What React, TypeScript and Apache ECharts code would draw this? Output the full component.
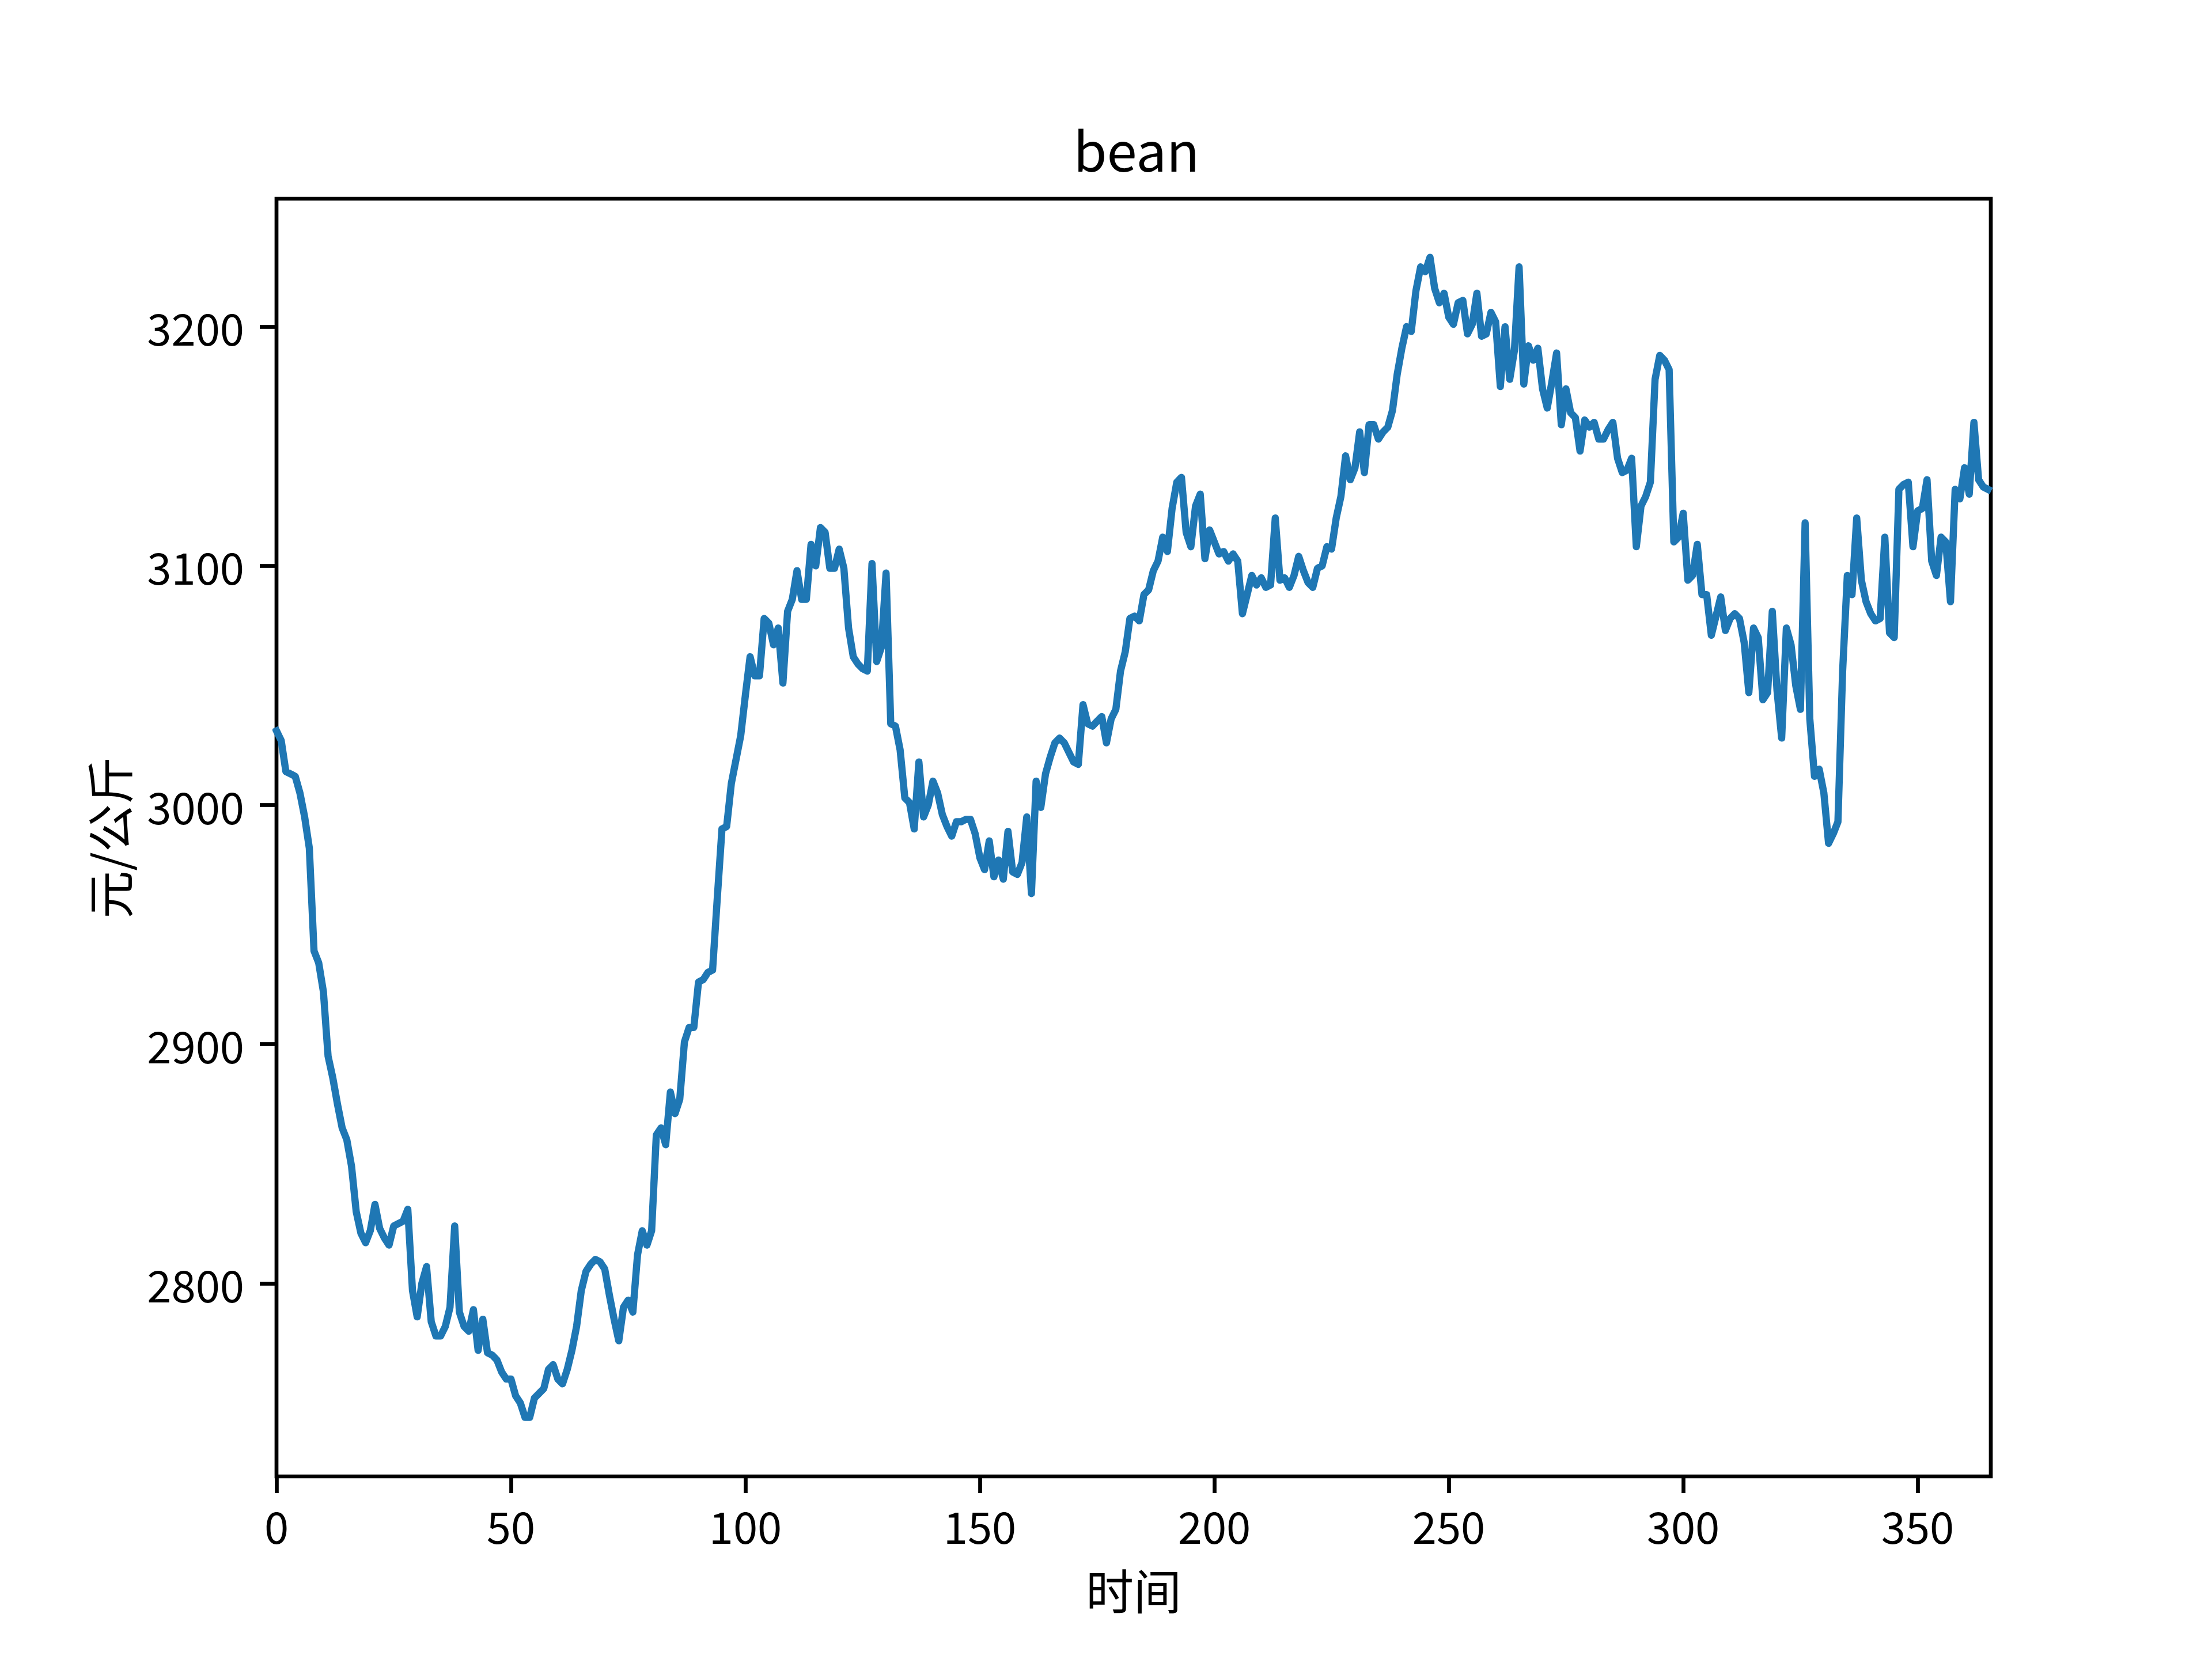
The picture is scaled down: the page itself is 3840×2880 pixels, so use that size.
import React, { useEffect, useRef } from "react";
import * as echarts from "echarts";

// Daily bean price (元/公斤), index = day
const prices: number[] = [
  3031, 3027, 3014, 3013, 3012, 3005, 2995, 2982, 2939, 2934,
  2922, 2895, 2886, 2875, 2865, 2860, 2849, 2830, 2821, 2817,
  2822, 2833, 2823, 2819, 2816, 2824, 2825, 2826, 2831, 2797,
  2786, 2800, 2807, 2784, 2778, 2778, 2782, 2790, 2824, 2788,
  2782, 2780, 2789, 2772, 2785, 2771, 2770, 2768, 2763, 2760,
  2760, 2753, 2750, 2744, 2744, 2752, 2754, 2756, 2764, 2766,
  2760, 2758, 2764, 2772, 2782, 2797, 2805, 2808, 2810, 2809,
  2806, 2795, 2785, 2776, 2790, 2793, 2788, 2812, 2822, 2816,
  2822, 2862, 2865, 2858, 2880, 2871, 2877, 2901, 2907, 2907,
  2926, 2927, 2930, 2931, 2961, 2990, 2991, 3009, 3019, 3029,
  3046, 3062, 3054, 3054, 3078, 3076, 3067, 3074, 3051, 3081,
  3086, 3098, 3086, 3086, 3109, 3100, 3116, 3114, 3099, 3099,
  3107, 3099, 3074, 3062, 3059, 3057, 3056, 3101, 3060, 3066,
  3097, 3034, 3033, 3023, 3003, 3001, 2990, 3018, 2995, 3000,
  3010, 3005, 2996, 2991, 2987, 2993, 2993, 2994, 2994, 2988,
  2978, 2973, 2985, 2970, 2977, 2969, 2989, 2972, 2971, 2976,
  2995, 2963, 3010, 2999, 3013, 3020, 3026, 3028, 3026, 3022,
  3018, 3017, 3042, 3034, 3033, 3035, 3037, 3026, 3036, 3040,
  3056, 3064, 3078, 3079, 3077, 3088, 3090, 3098, 3102, 3112,
  3106, 3124, 3135, 3137, 3114, 3108, 3125, 3130, 3103, 3115,
  3110, 3105, 3106, 3102, 3105, 3102, 3080, 3088, 3096, 3092,
  3095, 3091, 3092, 3120, 3094, 3095, 3091, 3096, 3104, 3098,
  3093, 3091, 3099, 3100, 3108, 3107, 3120, 3129, 3146, 3136,
  3141, 3156, 3139, 3159, 3159, 3153, 3156, 3158, 3165, 3180,
  3191, 3200, 3198, 3215, 3225, 3223, 3229, 3216, 3210, 3214,
  3204, 3201, 3210, 3211, 3197, 3201, 3214, 3196, 3197, 3206,
  3202, 3175, 3200, 3178, 3190, 3225, 3176, 3192, 3186, 3191,
  3174, 3166, 3177, 3189, 3159, 3174, 3164, 3162, 3148, 3161,
  3158, 3160, 3153, 3153, 3157, 3160, 3145, 3139, 3140, 3145,
  3108, 3125, 3129, 3135, 3178, 3188, 3186, 3182, 3110, 3112,
  3122, 3094, 3096, 3109, 3088, 3088, 3071, 3079, 3087, 3073,
  3078, 3080, 3078, 3068, 3047, 3074, 3070, 3044, 3047, 3081,
  3048, 3028, 3074, 3067, 3050, 3040, 3118, 3036, 3012, 3015,
  3005, 2984, 2988, 2993, 3056, 3096, 3088, 3120, 3094, 3085,
  3080, 3077, 3078, 3112, 3072, 3070, 3132, 3134, 3135, 3108,
  3123, 3124, 3136, 3102, 3096, 3112, 3110, 3085, 3132, 3128,
  3141, 3130, 3160, 3136, 3133, 3132,
];

const xTicks: number[] = [0, 50, 100, 150, 200, 250, 300, 350];
const yTicks: number[] = [2800, 2900, 3000, 3100, 3200];
const chartTitle = "bean";
const xName = "时间";
const yName = "元/公斤";

const FONT = "'Noto Sans CJK SC', 'Noto Sans', sans-serif";

export default function App() {
  const ref = useRef<HTMLDivElement>(null);

  useEffect(() => {
    document.body.style.margin = "0";
    if (!ref.current) return;
    const chart = echarts.init(ref.current, undefined, { renderer: "svg" });
    const data = prices.map((v, i) => [i, v]);
    chart.setOption({
      animation: false,
      backgroundColor: "#ffffff",
      title: {
        text: chartTitle,
        left: 1968,
        top: 205,
        textAlign: "center",
        textStyle: {
          fontFamily: FONT,
          fontSize: 94,
          fontWeight: "normal",
          color: "#000000",
        },
      },
      grid: {
        left: 480,
        right: 384,
        top: 345,
        bottom: 317,
        show: true,
        borderColor: "#000000",
        borderWidth: 6.7,
        backgroundColor: "transparent",
        containLabel: false,
      },
      xAxis: {
        type: "value",
        min: 0,
        max: 365.6,
        name: xName,
        nameLocation: "middle",
        nameGap: 153,
        nameTextStyle: { fontFamily: FONT, fontSize: 83, color: "#000000" },
        axisLine: { show: false },
        axisTick: {
          show: true,
          inside: false,
          length: 29,
          customValues: xTicks,
          lineStyle: { color: "#000000", width: 6.7 },
        },
        axisLabel: {
          customValues: xTicks,
          margin: 46,
          fontFamily: FONT,
          fontSize: 76,
          color: "#000000",
          formatter: (v: number) => String(v),
        },
        splitLine: { show: false },
      },
      yAxis: {
        type: "value",
        min: 2719.3,
        max: 3253.5,
        name: yName,
        nameLocation: "middle",
        nameGap: 252,
        nameRotate: 90,
        nameTextStyle: { fontFamily: FONT, fontSize: 83, color: "#000000" },
        axisLine: { show: false },
        axisTick: {
          show: true,
          inside: false,
          length: 29,
          customValues: yTicks,
          lineStyle: { color: "#000000", width: 6.7 },
        },
        axisLabel: {
          customValues: yTicks,
          margin: 56,
          fontFamily: FONT,
          fontSize: 76,
          color: "#000000",
          formatter: (v: number) => String(v),
        },
        splitLine: { show: false },
      },
      series: [
        {
          type: "line",
          data,
          showSymbol: false,
          symbol: "none",
          clip: true,
          lineStyle: { color: "#1f77b4", width: 12.5, cap: "square", join: "round" },
          z: 1,
        },
      ],
    });
    return () => chart.dispose();
  }, []);

  return (
    <div
      ref={ref}
      style={{ position: "fixed", left: 0, top: 0, width: 3840, height: 2880 }}
    />
  );
}
